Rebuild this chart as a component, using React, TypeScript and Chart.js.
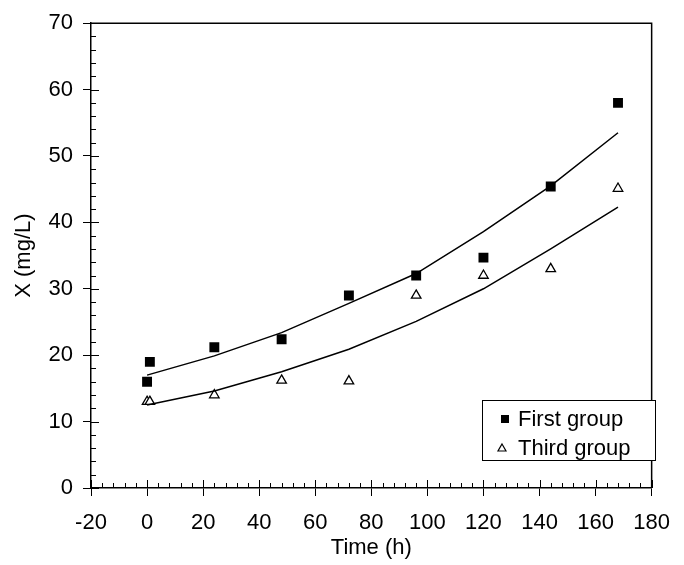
import React, { useEffect, useRef } from "react";
import { Chart, registerables } from "chart.js";

Chart.register(...registerables);

// ---- data ----
const timeH = [0, 1, 24, 48, 72, 96, 120, 144, 168];
const firstGroup = [16, 19, 21.2, 22.4, 29, 32, 34.7, 45.4, 58];
const thirdGroup = [13, 13, 14, 16.2, 16.1, 29, 32, 33, 45.1];

const fitTime = [0, 24, 48, 72, 96, 120, 144, 168];
const firstFit = [17.0, 19.9, 23.4, 27.8, 32.3, 38.6, 45.5, 53.5];
const thirdFit = [12.5, 14.6, 17.5, 20.9, 25.1, 30.0, 36.0, 42.3];

const seriesNames = ["First group", "Third group"];
const xTitle = "Time (h)";
const yTitle = "X (mg/L)";

const FONT = "'Liberation Sans', Arial, Helvetica, sans-serif";

const toPts = (xs: number[], ys: number[]) => xs.map((x, i) => ({ x, y: ys[i] }));

const framePlugin = {
  id: "frameAndTicks",
  afterDraw(chart: any) {
    const ctx = chart.ctx;
    const { left, right, top, bottom } = chart.chartArea;
    const xs = chart.scales.x;
    const ys = chart.scales.y;
    ctx.save();
    ctx.strokeStyle = "#000";
    ctx.lineWidth = 1.5;
    // top and right frame
    ctx.beginPath();
    ctx.moveTo(left, top);
    ctx.lineTo(right, top);
    ctx.lineTo(right, bottom);
    ctx.stroke();
    ctx.lineWidth = 1;
    // x ticks inward (major 8, minor 5)
    for (let v = -20; v <= 180; v += 4) {
      const px = Math.round(xs.getPixelForValue(v)) + 0.5;
      const major = v % 20 === 0;
      ctx.beginPath();
      ctx.moveTo(px, bottom);
      ctx.lineTo(px, bottom - (major ? 8 : 5));
      ctx.stroke();
    }
    // y ticks inward
    for (let v = 0; v <= 70; v += 2) {
      const py = Math.round(ys.getPixelForValue(v)) + 0.5;
      const major = v % 10 === 0;
      ctx.beginPath();
      ctx.moveTo(left, py);
      ctx.lineTo(left + (major ? 8 : 5), py);
      ctx.stroke();
    }
    // legend box
    const bx = 482, by = 400, bw = 173, bh = 60;
    ctx.fillStyle = "#fff";
    ctx.fillRect(bx, by, bw, bh);
    ctx.strokeRect(bx + 0.5, by + 0.5, bw, bh);
    // markers
    ctx.fillStyle = "#000";
    ctx.fillRect(501, 415, 8, 8);
    ctx.beginPath();
    ctx.moveTo(502, 444);
    ctx.lineTo(506, 451);
    ctx.lineTo(498, 451);
    ctx.closePath();
    ctx.fillStyle = "#fff";
    ctx.fill();
    ctx.lineWidth = 1.2;
    ctx.stroke();
    ctx.fillStyle = "#000";
    ctx.font = `22px ${FONT}`;
    ctx.textBaseline = "middle";
    ctx.textAlign = "left";
    ctx.fillText(seriesNames[0], 518, 420);
    ctx.fillText(seriesNames[1], 518, 449);
    ctx.restore();
  },
};

export default function App() {
  const ref = useRef<HTMLCanvasElement | null>(null);

  useEffect(() => {
    if (!ref.current) return;
    const chart = new Chart(ref.current, {
      type: "scatter",
      data: {
        datasets: [
          {
            label: "First fit",
            data: toPts(fitTime, firstFit),
            showLine: true,
            borderColor: "#000",
            borderWidth: 1.5,
            pointRadius: 0,
            fill: false,
          },
          {
            label: "Third fit",
            data: toPts(fitTime, thirdFit),
            showLine: true,
            borderColor: "#000",
            borderWidth: 1.5,
            pointRadius: 0,
            fill: false,
          },
          {
            label: seriesNames[0],
            data: toPts(timeH, firstGroup),
            pointStyle: "rect",
            pointRadius: 7,
            backgroundColor: "#000",
            borderColor: "#000",
            borderWidth: 0,
          },
          {
            label: seriesNames[1],
            data: toPts(timeH, thirdGroup),
            pointStyle: "triangle",
            pointRadius: 5.5,
            backgroundColor: "#fff",
            borderColor: "#000",
            borderWidth: 1.3,
          },
        ],
      },
      options: {
        animation: false,
        responsive: false,
        devicePixelRatio: 1,
        layout: { padding: { top: 19, right: 21, left: 0, bottom: 0 } },
        plugins: {
          legend: { display: false },
          tooltip: { enabled: false },
        },
        scales: {
          x: {
            type: "linear",
            min: -20,
            max: 180,
            afterFit: (s: any) => {
              s.height = 77;
            },
            ticks: {
              stepSize: 20,
              color: "#000",
              padding: 14,
              maxRotation: 0,
              font: { family: FONT, size: 22 },
            },
            grid: {
              display: true,
              drawOnChartArea: false,
              drawTicks: true,
              tickLength: 8,
              color: "#000",
              lineWidth: 1,
            },
            border: { display: true, color: "#000", width: 1.5 },
            title: {
              display: true,
              text: xTitle,
              color: "#000",
              font: { family: FONT, size: 22 },
              padding: { top: 4, bottom: 4 },
            },
          },
          y: {
            type: "linear",
            min: 0,
            max: 70,
            afterFit: (s: any) => {
              s.width = 91;
            },
            ticks: {
              stepSize: 10,
              color: "#000",
              padding: 10,
              font: { family: FONT, size: 22 },
            },
            grid: {
              display: true,
              drawOnChartArea: false,
              drawTicks: true,
              tickLength: 8,
              color: "#000",
              lineWidth: 1,
            },
            border: { display: true, color: "#000", width: 1.5 },
            title: {
              display: true,
              text: yTitle,
              color: "#000",
              font: { family: FONT, size: 22 },
              padding: { top: 11, bottom: 11 },
            },
          },
        },
      },
      plugins: [framePlugin],
    });
    return () => chart.destroy();
  }, []);

  return (
    <div style={{ position: "fixed", left: 0, top: 0, width: 684, height: 565, background: "#fff" }}>
      <canvas ref={ref} width={684} height={565} style={{ width: 684, height: 565 }} />
    </div>
  );
}
